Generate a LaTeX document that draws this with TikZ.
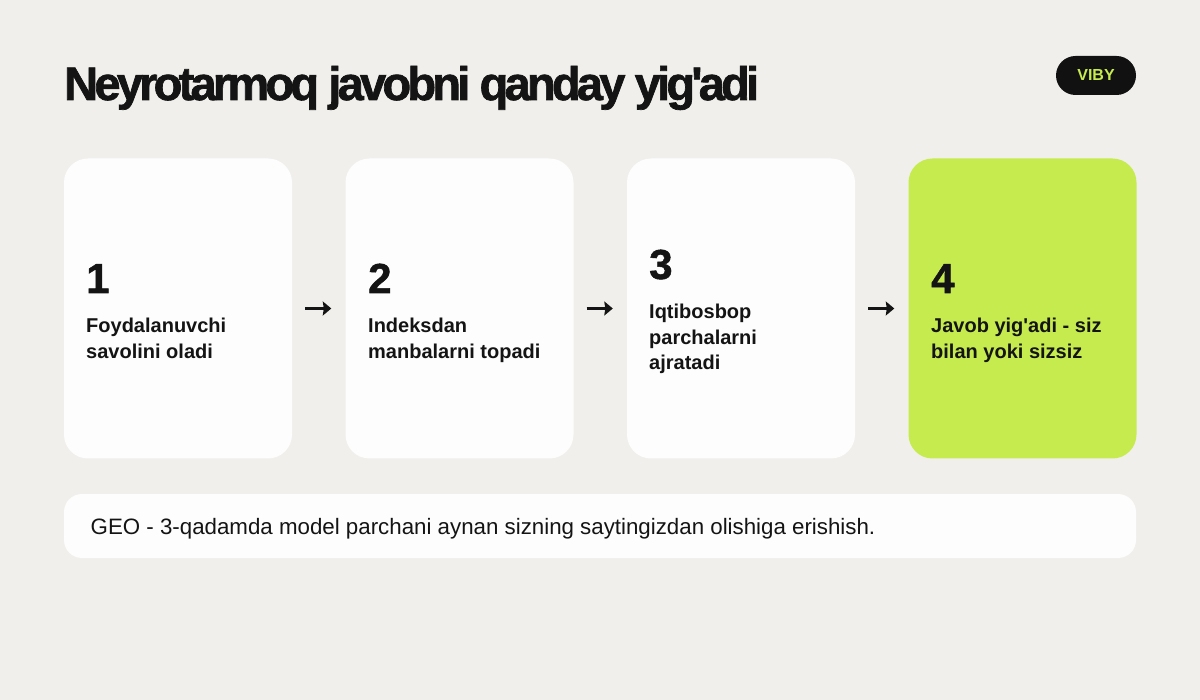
\documentclass[tikz,border=0pt]{standalone}
\usepackage{fontspec}
\newfontfamily\uifont{Liberation Sans}
\newfontfamily\numfont[FakeBold=1.2]{Liberation Sans}
\newfontfamily\titlefont[LetterSpace=-8,FakeBold=1.5]{Liberation Sans}
\usetikzlibrary{arrows.meta}
\definecolor{bg}{HTML}{F0EFEB}
\definecolor{cardw}{HTML}{FDFDFD}
\definecolor{lime}{HTML}{C6EB4F}
\definecolor{ink}{HTML}{141414}
\definecolor{pill}{HTML}{111111}
\begin{document}
\begin{tikzpicture}[x=1pt,y=-1pt,
  card/.style={rectangle, rounded corners=24pt, fill=cardw, minimum width=228pt, minimum height=300pt, inner sep=0pt},
  num/.style={anchor=base west, inner sep=0pt, text=ink, font=\numfont\bfseries\fontsize{42}{42}\selectfont},
  desc/.style={anchor=base west, inner sep=0pt, align=left, text=ink, font=\uifont\bfseries\fontsize{20}{25.5}\selectfont},
  flow/.style={draw=ink, line width=3pt, -{Stealth[length=8.5pt,width=14pt,inset=1pt]}, shorten <=13pt, shorten >=14pt},
  badge/.style={rectangle, rounded corners=19.5pt, fill=pill, minimum width=80pt, minimum height=39pt, inner sep=0pt, text=lime, font=\uifont\bfseries\fontsize{16}{16}\selectfont},
  footer/.style={rectangle, rounded corners=18pt, fill=cardw, minimum width=1072pt, minimum height=64pt, inner sep=0pt}
]
\fill[bg] (0,0) rectangle (1200,700);
\useasboundingbox (0,0) rectangle (1200,700);

\node[anchor=base west, inner sep=0pt, text=ink] (title) at (64,100)
  {\titlefont\bfseries\fontsize{47}{47}\selectfont Neyrotarmoq javobni qanday yig'adi};
\node[badge] (viby) at (1096,75.5) {VIBY};

\node[card] (c1) at (178,308.5) {};
\node[card] (c2) at (459.5,308.5) {};
\node[card] (c3) at (741,308.5) {};
\node[card, fill=lime] (c4) at (1022.5,308.5) {};

\node[num] (n1) at (86,293) {1};
\node[desc] (d1) at (86,358.5) {Foydalanuvchi\\savolini oladi};
\node[num] (n2) at (368,293) {2};
\node[desc] (d2) at (368,358.5) {Indeksdan\\manbalarni topadi};
\node[num] (n3) at (649,279) {3};
\node[desc] (d3) at (649,370) {Iqtibosbop\\parchalarni\\ajratadi};
\node[num] (n4) at (931,293) {4};
\node[desc] (d4) at (931,358.5) {Javob yig'adi - siz\\bilan yoki sizsiz};

\draw[flow] (c1) -- (c2);
\draw[flow] (c2) -- (c3);
\draw[flow] (c3) -- (c4);

\node[footer] (fbox) at (600,526) {};
\node[anchor=base west, inner sep=0pt, text=ink, font=\uifont\fontsize{22.3}{22.3}\selectfont] (ftext) at (90.5,534)
  {GEO - 3-qadamda model parchani aynan sizning saytingizdan olishiga erishish.};
\end{tikzpicture}
\end{document}
